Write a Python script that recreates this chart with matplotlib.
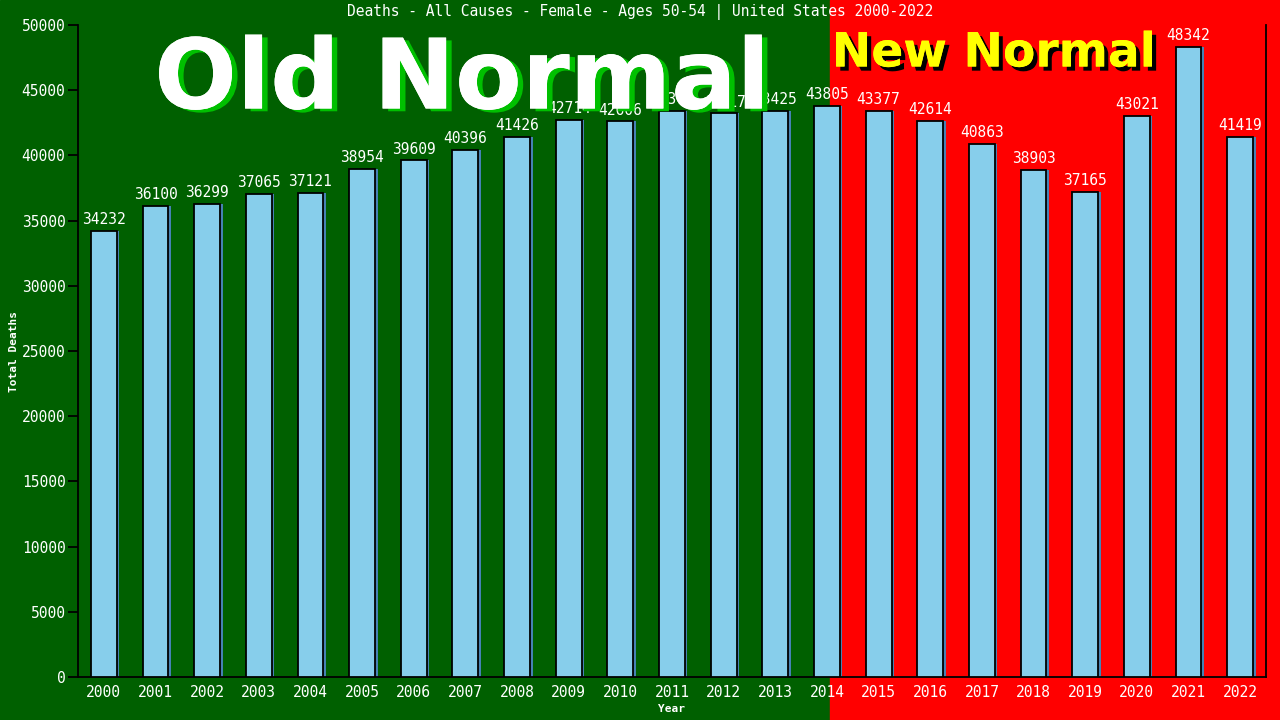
import matplotlib
matplotlib.use("Agg")
import matplotlib.pyplot as plt
import matplotlib.patheffects as pe
import numpy as np

years = [str(y) for y in range(2000, 2023)]
deaths = [34232, 36100, 36299, 37065, 37121, 38954, 39609, 40396, 41426, 42714,
          42606, 43374, 43217, 43425, 43805, 43377, 42614, 40863, 38903, 37165,
          43021, 48342, 41419]
yticks = list(range(0, 50001, 5000))
title = "Deaths - All Causes - Female - Ages 50-54 | United States 2000-2022"

mono = "DejaVu Sans Mono"
fig = plt.figure(figsize=(12.8, 7.2), dpi=100)
split = 830 / 1280
fig.patches.append(plt.Rectangle((0, 0), split, 1, transform=fig.transFigure,
                                 color="#006000", zorder=-10))
fig.patches.append(plt.Rectangle((split, 0), 1 - split, 1, transform=fig.transFigure,
                                 color="#FF0000", zorder=-10))

ax = fig.add_axes([78 / 1280, 1 - 677 / 720, (1266 - 78) / 1280, (677 - 25) / 720])
ax.patch.set_alpha(0)
x = np.arange(len(years))
ax.bar(x + 0.05, deaths, width=0.5, color="#4682B4", zorder=2)
ax.bar(x, deaths, width=0.5, color="#87CEEB", edgecolor="black", linewidth=1.3, zorder=3)
for xi, v in zip(x, deaths):
    ax.text(xi, v + 300, str(v), ha="center", va="bottom", color="white",
            fontsize=10.5, family=mono, zorder=5)

ax.set_xlim(-0.5, len(years) - 0.5)
ax.set_ylim(0, 50000)
ax.set_xticks(x)
ax.set_xticklabels(years, family=mono, fontsize=10.5, color="white")
ax.set_yticks(yticks)
ax.set_yticklabels([str(t) for t in yticks], family=mono, fontsize=10.5, color="white")
ax.tick_params(axis="x", length=0, pad=6)
ax.tick_params(axis="y", length=7, width=1.3, color="black", pad=2)
for s in ["left", "bottom", "right"]:
    ax.spines[s].set_color("black")
    ax.spines[s].set_linewidth(1.3)
ax.spines["top"].set_visible(False)

ax.set_xlabel("Year", family=mono, fontsize=8, color="white", fontweight="bold", labelpad=3)
ax.set_ylabel("Total Deaths", family=mono, fontsize=8, color="white", fontweight="bold", labelpad=2)

fig.text(0.5, 1 - 12 / 720, title, ha="center", va="center", color="white",
         family=mono, fontsize=10.5)

fig.text(462 / 1280, 1 - 82 / 720, "Old Normal", ha="center", va="center", color="white",
         fontsize=70, fontweight="bold", family="DejaVu Sans",
         path_effects=[pe.withSimplePatchShadow(offset=(4, -2), shadow_rgbFace="#00C000", alpha=1.0),
                       pe.Normal()], zorder=10)
fig.text(994 / 1280, 1 - 54 / 720, "New Normal", ha="center", va="center", color="#FFFF00",
         fontsize=34, fontweight="bold", family="DejaVu Sans",
         path_effects=[pe.withSimplePatchShadow(offset=(3, -3), shadow_rgbFace="black", alpha=1.0),
                       pe.Normal()], zorder=10)

fig.savefig("out.png", dpi=100)
